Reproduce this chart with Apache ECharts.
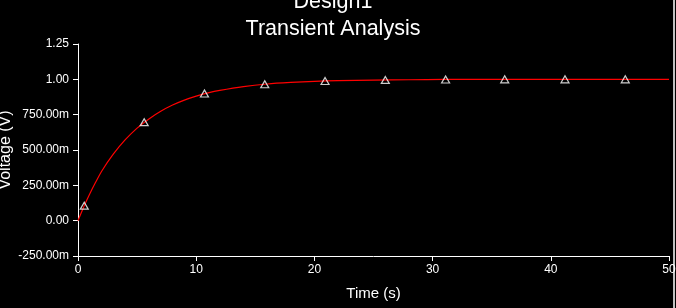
<!DOCTYPE html>
<html>
<head>
<meta charset="utf-8">
<script src="https://cdn.jsdelivr.net/npm/echarts@6/dist/echarts.min.js"></script>
<style>
html,body{margin:0;padding:0;background:#000;}
#chart{width:676px;height:308px;}
</style>
</head>
<body>
<div id="chart"></div>
<script>
// ---- data ----
var titleLines = ['Design1', 'Transient Analysis'];
var xAxisName = 'Time (s)';
var yAxisName = 'Voltage (V)';
var xTicks = [0, 10, 20, 30, 40, 50];
var yTickValues = [-0.25, 0, 0.25, 0.5, 0.75, 1.0, 1.25];
var yTickLabels = ['-250.00m', '0.00', '250.00m', '500.00m', '750.00m', '1.00', '1.25'];

var timeValues = [0, 0.5, 1, 1.5, 2, 3, 4, 5, 6, 7, 8, 9, 10, 11, 12, 14, 16, 18, 20, 22, 25, 28, 31, 35, 40, 45, 50];
var voltageValues = [0, 0.10, 0.19, 0.273, 0.35, 0.472, 0.573, 0.655, 0.72, 0.774, 0.818, 0.853, 0.881, 0.904, 0.922, 0.949, 0.967, 0.978, 0.986, 0.991, 0.995, 0.997, 0.999, 1.0, 1.0, 1.0, 1.0];

var markerTimes = [0.53, 5.6, 10.7, 15.8, 20.9, 26.0, 31.1, 36.1, 41.2, 46.3];
var markerVolts = [0.106, 0.697, 0.90, 0.965, 0.988, 0.996, 0.999, 1.0, 1.0, 1.0];

// ---- build chart ----
var font = "'Liberation Sans', Arial, sans-serif";
var lineData = timeValues.map(function (t, i) { return [t, voltageValues[i]]; });
var markerData = markerTimes.map(function (t, i) { return [t, markerVolts[i]]; });

function yLabel(v) {
  for (var i = 0; i < yTickValues.length; i++) {
    if (Math.abs(yTickValues[i] - v) < 1e-6) return yTickLabels[i];
  }
  return '';
}

var chart = echarts.init(document.getElementById('chart'), null, {renderer: 'canvas'});
chart.setOption({
  backgroundColor: '#000000',
  animation: false,
  grid: {left: 78, right: 7, top: 44, bottom: 52, containLabel: false, outerBoundsMode: 'none'},
  xAxis: {
    type: 'value',
    min: 0, max: 50, interval: 10,
    name: xAxisName,
    nameLocation: 'middle',
    nameGap: 30,
    nameMoveOverlap: false,
    nameTextStyle: {color: '#ffffff', fontFamily: font, fontSize: 15},
    axisLine: {show: true, onZero: false, lineStyle: {color: '#ffffff', width: 1}},
    axisTick: {show: true, length: 5, lineStyle: {color: '#ffffff'}},
    axisLabel: {color: '#ffffff', fontFamily: font, fontSize: 12, margin: 8,
      formatter: function (v) { return xTicks.indexOf(v) >= 0 ? String(v) : ''; }},
    splitLine: {show: false}
  },
  yAxis: {
    type: 'value',
    min: -0.25, max: 1.25, interval: 0.25,
    name: yAxisName,
    nameLocation: 'middle',
    nameGap: 64,
    nameMoveOverlap: false,
    nameTextStyle: {color: '#ffffff', fontFamily: font, fontSize: 16},
    axisLine: {show: true, onZero: false, lineStyle: {color: '#ffffff', width: 1}},
    axisTick: {show: true, length: 5, lineStyle: {color: '#ffffff'}},
    axisLabel: {color: '#ffffff', fontFamily: font, fontSize: 12, margin: 9, formatter: yLabel},
    splitLine: {show: false}
  },
  graphic: [{
    type: 'rect', left: 673, top: 0, shape: {width: 2, height: 308},
    style: {fill: '#c0c0c0'}, silent: true
  }, {
    type: 'text', x: 333, y: 2.5, silent: true,
    style: {text: titleLines[0], fill: '#ffffff', font: "21.5px 'Liberation Sans', Arial, sans-serif",
      align: 'center', verticalAlign: 'middle'}
  }, {
    type: 'text', x: 333, y: 29.5, silent: true,
    style: {text: titleLines[1], fill: '#ffffff', font: "21.5px 'Liberation Sans', Arial, sans-serif",
      align: 'center', verticalAlign: 'middle'}
  }],
  series: [{
    type: 'line',
    data: lineData,
    showSymbol: false,
    smooth: 0.2,
    lineStyle: {color: '#ff0000', width: 1.2},
    z: 2
  }, {
    type: 'scatter',
    data: markerData,
    symbol: 'triangle',
    symbolSize: [8, 7],
    itemStyle: {color: 'rgba(0,0,0,0)', borderColor: '#ffffff', borderWidth: 1.2},
    z: 3
  }]
});
</script>
</body>
</html>
